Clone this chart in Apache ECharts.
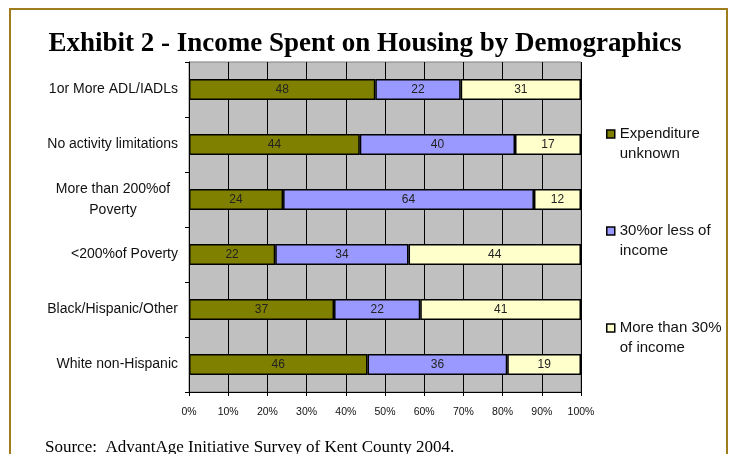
<!DOCTYPE html>
<html>
<head>
<meta charset="utf-8">
<script src="https://cdn.jsdelivr.net/npm/echarts@6/dist/echarts.min.js"></script>
<style>
  html, body { margin: 0; padding: 0; background: #fff; }
  #main { width: 730px; height: 454px; }
</style>
</head>
<body>
<div id="main"></div>
<script>
// categories, top to bottom
var categories = [
  '1or More ADL/IADLs',
  'No activity limitations',
  'More than 200%of\nPoverty',
  '<200%of Poverty',
  'Black/Hispanic/Other',
  'White non-Hispanic'
];
var seriesNames = ['Expenditure\nunknown', '30%or less of\nincome', 'More than 30%\nof income'];
var expenditureUnknown = [48, 44, 24, 22, 37, 46];
var lessThan30 = [22, 40, 64, 34, 22, 36];
var moreThan30 = [31, 17, 12, 44, 41, 19];
var xTicks = [0, 10, 20, 30, 40, 50, 60, 70, 80, 90, 100];

var colors = ['#808000', '#9999FF', '#FFFFCC'];
var raw = [expenditureUnknown, lessThan30, moreThan30];

// 100% stacked: each row is scaled to its total
var totals = categories.map(function (c, i) {
  return expenditureUnknown[i] + lessThan30[i] + moreThan30[i];
});

var series = raw.map(function (arr, s) {
  return {
    name: seriesNames[s],
    type: 'bar',
    stack: 'total',
    barWidth: 21,
    data: arr.map(function (v, i) { return v / totals[i] * 100; }),
    itemStyle: { color: colors[s], borderColor: '#000', borderWidth: 1.5 },
    label: {
      show: true,
      position: 'inside',
      color: '#222',
      fontFamily: 'Arial, Liberation Sans, sans-serif',
      fontSize: 12,
      formatter: function (p) { return raw[s][p.dataIndex]; }
    }
  };
});

var myChart = echarts.init(document.getElementById('main'));
myChart.setOption({
  animation: false,
  title: [
    {
      text: 'Exhibit 2 - Income Spent on Housing by Demographics',
      left: 'center',
      top: 26,
      textStyle: {
        fontFamily: 'Liberation Serif, Times New Roman, serif',
        fontSize: 27,
        fontWeight: 'bold',
        color: '#000'
      }
    },
    {
      text: 'Source:  AdvantAge Initiative Survey of Kent County 2004.',
      left: 40,
      top: 434,
      textStyle: {
        fontFamily: 'Liberation Serif, Times New Roman, serif',
        fontSize: 17,
        fontWeight: 'normal',
        color: '#000'
      }
    }
  ],
  graphic: [
    {
      type: 'rect',
      shape: { x: 10, y: 9, width: 717, height: 500 },
      style: { fill: 'none', stroke: '#A07C1C', lineWidth: 2 },
      silent: true
    }
  ],
  legend: {
    orient: 'vertical',
    left: 606,
    top: 104,
    padding: 0,
    itemGap: 37,
    itemWidth: 8,
    itemHeight: 8,
    icon: 'rect',
    selectedMode: false,
    itemStyle: { borderColor: '#000', borderWidth: 1.5 },
    // blank first line so the marker sits beside the first text line
    formatter: function (name) { return '\n' + name; },
    textStyle: {
      fontFamily: 'Arial, Liberation Sans, sans-serif',
      fontSize: 15,
      color: '#111',
      lineHeight: 20
    },
    data: seriesNames
  },
  grid: {
    left: 189,
    right: 149,
    top: 62,
    bottom: 62,
    show: true,
    backgroundColor: '#C0C0C0',
    borderColor: '#808080',
    borderWidth: 1
  },
  xAxis: {
    type: 'value',
    min: xTicks[0],
    max: xTicks[xTicks.length - 1],
    interval: 10,
    axisLine: { show: true, lineStyle: { color: '#000', width: 1 } },
    axisTick: { show: true, length: 4, lineStyle: { color: '#000' } },
    splitLine: { show: true, lineStyle: { color: '#000', width: 1 } },
    axisLabel: {
      margin: 15,
      formatter: '{value}%',
      fontFamily: 'Arial, Liberation Sans, sans-serif',
      fontSize: 10.5,
      color: '#111'
    }
  },
  yAxis: {
    type: 'category',
    inverse: true,
    data: categories,
    axisLine: { show: true, lineStyle: { color: '#000', width: 1 } },
    axisTick: { show: true, length: 4, lineStyle: { color: '#000' } },
    splitLine: { show: false },
    axisLabel: {
      margin: 11,
      fontFamily: 'Arial, Liberation Sans, sans-serif',
      fontSize: 14,
      color: '#111',
      lineHeight: 21,
      formatter: function (v) {
        if (v.indexOf('\n') >= 0) {
          return v.split('\n').map(function (line) { return '{c|' + line + '}'; }).join('\n');
        }
        return v;
      },
      rich: {
        c: {
          width: 130,
          align: 'center',
          fontFamily: 'Arial, Liberation Sans, sans-serif',
          fontSize: 14,
          color: '#111',
          lineHeight: 21
        }
      }
    }
  },
  series: series
});
</script>
</body>
</html>
